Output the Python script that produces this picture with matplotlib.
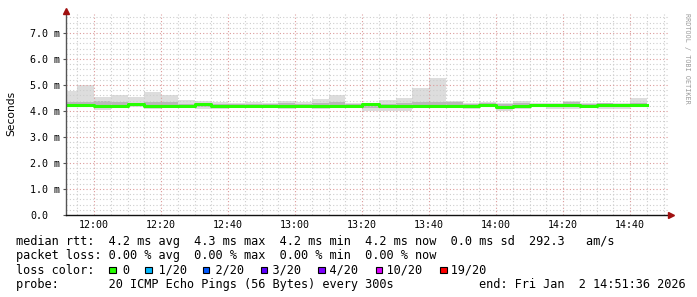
import matplotlib
matplotlib.use('Agg')
import matplotlib.pyplot as plt
import matplotlib.dates as mdates
from matplotlib.patches import Rectangle
import numpy as np
import pandas as pd

# 5 minute rrd steps, 11:50 .. 14:40 (step start times)
step_start = '2026-01-02 11:50'
n_steps = 35

# smoke (ms): outer band min/max, inner band lo/hi, median
rtt_max = [4.78, 4.99, 4.55, 4.63, 4.55, 4.74, 4.60, 4.43, 4.38, 4.35, 4.30, 4.35,
           4.29, 4.38, 4.33, 4.48, 4.63, 4.30, 4.29, 4.42, 4.50, 4.88, 5.27, 4.37,
           4.30, 4.35, 4.30, 4.37, 4.29, 4.29, 4.40, 4.29, 4.30, 4.30, 4.50]
rtt_hi = [4.36, 4.36, 4.38, 4.36, 4.32, 4.33, 4.34, 4.28, 4.30, 4.27, 4.25, 4.27,
          4.26, 4.30, 4.26, 4.29, 4.33, 4.26, 4.28, 4.28, 4.30, 4.35, 4.34, 4.36,
          4.27, 4.29, 4.27, 4.30, 4.26, 4.27, 4.35, 4.27, 4.30, 4.28, 4.30]
rtt_med = [4.23, 4.23, 4.21, 4.21, 4.25, 4.21, 4.21, 4.21, 4.25, 4.21, 4.18, 4.20,
           4.20, 4.18, 4.19, 4.19, 4.21, 4.19, 4.25, 4.19, 4.20, 4.20, 4.20, 4.20,
           4.21, 4.24, 4.17, 4.21, 4.22, 4.22, 4.22, 4.20, 4.23, 4.23, 4.22]
rtt_lo = [4.18, 4.18, 4.12, 4.16, 4.18, 4.14, 4.16, 4.17, 4.16, 4.14, 4.15, 4.16,
          4.17, 4.12, 4.16, 4.13, 4.16, 4.16, 4.12, 4.12, 4.12, 4.16, 4.16, 4.16,
          4.14, 4.17, 4.10, 4.14, 4.17, 4.14, 4.14, 4.15, 4.14, 4.14, 4.17]
rtt_min = [4.15, 4.15, 4.04, 4.14, 4.14, 4.06, 4.14, 4.15, 4.06, 4.06, 4.14, 4.14,
           4.15, 4.06, 4.14, 4.06, 4.14, 4.14, 4.01, 4.01, 4.01, 4.14, 4.14, 4.14,
           4.06, 4.14, 4.01, 4.06, 4.14, 4.06, 4.06, 4.14, 4.06, 4.06, 4.14]

ytick_vals = [0, 1, 2, 3, 4, 5, 6, 7]
ytick_labels = ['0.0', '1.0 m', '2.0 m', '3.0 m', '4.0 m', '5.0 m', '6.0 m', '7.0 m']

legend_lines = [
    'median rtt:  4.2 ms avg  4.3 ms max  4.2 ms min  4.2 ms now  0.0 ms sd  292.3   am/s',
    'packet loss: 0.00 % avg  0.00 % max  0.00 % min  0.00 % now',
]
loss_labels = ['0', '1/20', '2/20', '3/20', '4/20', '10/20', '19/20']
loss_colors = ['#26ff00', '#00b8ff', '#0059ff', '#5e00ff', '#7e00ff', '#dd00ff', '#ff0000']
probe_text = 'probe:       20 ICMP Echo Pings (56 Bytes) every 300s'
end_text = 'end: Fri Jan  2 14:51:36 2026'

W, H = 697, 297
fig = plt.figure(figsize=(W / 100, H / 100), dpi=100)
fig.patch.set_facecolor('white')
ax = fig.add_axes([66 / W, (H - 215) / H, 603 / W, 201 / H])

edges = pd.date_range(step_start, periods=n_steps + 1, freq='5min')
x = mdates.date2num(edges)


def ext(v):
    return np.append(v, v[-1])


ax.fill_between(x, ext(rtt_min), ext(rtt_max), step='post', color='#dddddd', lw=0, zorder=1)
ax.fill_between(x, ext(rtt_lo), ext(rtt_hi), step='post', color='#b9b9b9', lw=0, zorder=1)
ax.step(x, ext(rtt_med), where='post', color='#26ff00', lw=2.2, zorder=3)

t0 = pd.Timestamp('2026-01-02 11:51:36')
ax.set_xlim(mdates.date2num(t0), mdates.date2num(t0 + pd.Timedelta(hours=3)))
ax.set_ylim(0, 7.73)

ax.xaxis.set_major_locator(mdates.MinuteLocator(byminute=[0, 20, 40]))
ax.xaxis.set_minor_locator(mdates.MinuteLocator(byminute=range(0, 60, 5)))
ax.xaxis.set_major_formatter(mdates.DateFormatter('%H:%M'))
ax.set_yticks(ytick_vals, ytick_labels)
ax.set_yticks(np.arange(0, 7.8, 0.2), minor=True)

ax.grid(which='minor', color='#cdcdcd', ls=(0, (1, 2)), lw=0.8, zorder=2)
ax.grid(which='major', color='#dc9a9a', ls=(0, (1, 2)), lw=0.8, zorder=2)
ax.set_axisbelow(False)

mono = 'DejaVu Sans Mono'
ax.tick_params(axis='x', which='both', length=0, pad=3.5, labelsize=7.2)
ax.tick_params(axis='y', which='major', length=2.2, width=0.8, color='#555555',
               pad=23.8, labelsize=7.2)
ax.tick_params(axis='y', which='minor', length=0)
for lab in ax.get_yticklabels():
    lab.set_horizontalalignment('left')
    lab.set_family(mono)
for lab in ax.get_xticklabels():
    lab.set_family(mono)

for s in ['top', 'right']:
    ax.spines[s].set_visible(False)
ax.spines['left'].set_color('#555555')
ax.spines['left'].set_linewidth(1.0)
ax.spines['bottom'].set_color('#111111')
ax.spines['bottom'].set_linewidth(1.0)
ax.spines['left'].set_zorder(4)
ax.spines['bottom'].set_zorder(4)

# arrows at axis ends
ax.plot([0], [1.015], marker='^', ms=4, color='#a01010', mec='#a01010',
        transform=ax.transAxes, clip_on=False, zorder=5)
ax.plot([1.004], [0], marker='>', ms=4, color='#a01010', mec='#a01010',
        transform=ax.transAxes, clip_on=False, zorder=5)

fig.text(11 / W, 1 - 113 / H, 'Seconds', rotation=90, ha='center', va='center',
         fontsize=7.7, family='DejaVu Sans')
fig.text(687 / W, 1 - 58 / H, 'RRDTOOL / TOBI OETIKER', rotation=270, ha='center',
         va='center', fontsize=4.9, family=mono, color='#9a9a9a')

fs = 8.6
cw = 0.6021 * fs * 100 / 72  # mono char advance in px
x0 = 16
baselines = [245, 259.2, 273.4, 287.6]
for i, line in enumerate(legend_lines):
    fig.text(x0 / W, 1 - baselines[i] / H, line, family=mono, fontsize=fs, va='baseline')

# loss colour row
loss_line = 'loss color:  '
box_cols = []
for lab in loss_labels:
    box_cols.append(len(loss_line))
    loss_line += '  ' + lab + '  '
fig.text(x0 / W, 1 - baselines[2] / H, loss_line, family=mono, fontsize=fs, va='baseline')
for col, c in zip(box_cols, loss_colors):
    fig.patches.append(Rectangle(((x0 + col * cw) / W, (H - baselines[2]) / H),
                                 6.5 / W, 6.8 / H, transform=fig.transFigure,
                                 facecolor=c, edgecolor='black', lw=0.8))

fig.text(x0 / W, 1 - baselines[3] / H, probe_text, family=mono, fontsize=fs, va='baseline')
fig.text(479 / W, 1 - baselines[3] / H, end_text, family=mono, fontsize=fs, va='baseline')

fig.savefig('out.png', dpi=100, facecolor='white')
